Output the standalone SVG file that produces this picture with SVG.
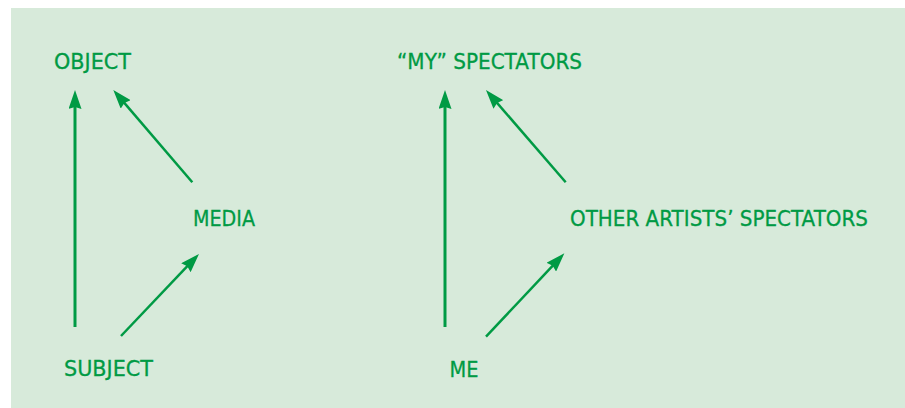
<svg xmlns="http://www.w3.org/2000/svg" width="905" height="408" viewBox="0 0 905 408">
<style>
.lbl{font-family:"DejaVu Sans","Liberation Sans",sans-serif;font-size:21px;fill:#009a44;stroke:#009a44;stroke-width:0.3}
.c{stroke:#009a44;fill:none}
.v{stroke-width:3}
.d{stroke-width:2.5}
</style>
<defs>
<marker id="ah" markerUnits="userSpaceOnUse" markerWidth="19" markerHeight="13" viewBox="0 0 19 13" refX="9" refY="6.5" orient="auto">
<path d="M0,0 L19,6.5 L0,13 L2,6.5 z" fill="#009a44"/>
</marker>
</defs>
<rect x="11" y="8" width="894" height="400" fill="#d7eada"/>
<g id="connectors">
<line class="c v" x1="75" y1="327" x2="75" y2="100" marker-end="url(#ah)"/>
<line class="c d" x1="192.3" y1="182.3" x2="119.8" y2="97.6" marker-end="url(#ah)"/>
<line class="c d" x1="121" y1="336" x2="192.1" y2="261.2" marker-end="url(#ah)"/>
<line class="c v" x1="445" y1="327" x2="445" y2="100" marker-end="url(#ah)"/>
<line class="c d" x1="565.7" y1="182.3" x2="492.5" y2="97.6" marker-end="url(#ah)"/>
<line class="c d" x1="486" y1="336.7" x2="557.5" y2="260.6" marker-end="url(#ah)"/>
</g>
<g id="object"><text class="lbl" x="54" y="68.5" textLength="77" lengthAdjust="spacingAndGlyphs">OBJECT</text></g>
<g id="media"><text class="lbl" x="193" y="225.5" textLength="62" lengthAdjust="spacingAndGlyphs">MEDIA</text></g>
<g id="subject"><text class="lbl" x="64" y="376" textLength="89" lengthAdjust="spacingAndGlyphs">SUBJECT</text></g>
<g id="my-spectators"><text class="lbl" x="397" y="69" textLength="185" lengthAdjust="spacingAndGlyphs">“MY” SPECTATORS</text></g>
<g id="other-spectators"><text class="lbl" x="570" y="225.5" textLength="298" lengthAdjust="spacingAndGlyphs">OTHER ARTISTS’ SPECTATORS</text></g>
<g id="me"><text class="lbl" x="449.5" y="376.5" textLength="29" lengthAdjust="spacingAndGlyphs">ME</text></g>
</svg>
